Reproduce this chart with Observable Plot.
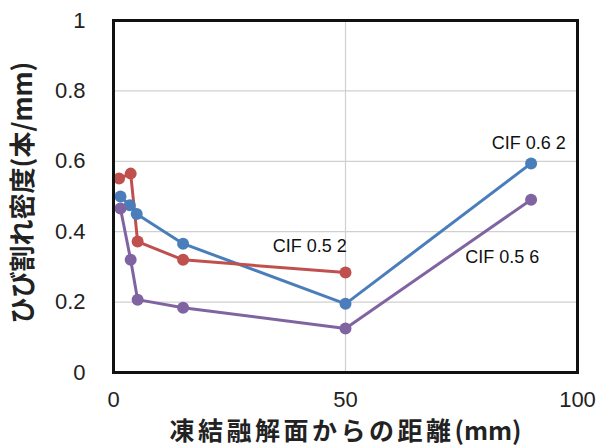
<!DOCTYPE html>
<html>
<head>
<meta charset="utf-8">
<script src="https://cdn.jsdelivr.net/npm/d3@7"></script>
<script src="https://cdn.jsdelivr.net/npm/@observablehq/plot@0.6"></script>
<style>
html,body{margin:0;padding:0;background:#fff;}
</style>
</head>
<body>
<div id="chart"></div>
<script>
const seriesNames = ["CIF 0.6 2", "CIF 0.5 2", "CIF 0.5 6"];
const seriesColors = ["#4A7EBB", "#C0504D", "#8064A2"];
const blueX = [1.5, 3.5, 5, 15, 50, 90];
const blueY = [0.50, 0.475, 0.45, 0.366, 0.195, 0.594];
const redX = [1.2, 3.7, 5.2, 15, 50];
const redY = [0.551, 0.565, 0.372, 0.32, 0.284];
const purpleX = [1.5, 3.7, 5.2, 15, 50, 90];
const purpleY = [0.466, 0.32, 0.207, 0.184, 0.125, 0.491];
const xTicks = [0, 50, 100];
const yTicks = [0, 0.2, 0.4, 0.6, 0.8, 1];
const labelText = ["CIF 0.5 2", "CIF 0.6 2", "CIF 0.5 6"];
const labelX = [42.3, 89.5, 83.8];
const labelY = [0.36, 0.65, 0.327];
const xTitleJa = "凍結融解面からの距離";
const xTitleUnit = "(mm)";
const xTitle = xTitleJa + xTitleUnit;
const yTitle = "ひび割れ密度(本/mm)";

const data = [];
[[blueX, blueY], [redX, redY], [purpleX, purpleY]].forEach(([xs, ys], i) => {
  xs.forEach((x, j) => data.push({series: seriesNames[i], x, y: ys[j]}));
});
const labels = labelText.map((t, i) => ({t, x: labelX[i], y: labelY[i]}));

const font = "'Liberation Sans', Arial, sans-serif";
const jp = "'Noto Sans CJK JP', sans-serif";
const chart = Plot.plot({
  width: 599,
  height: 447,
  marginLeft: 113,
  marginRight: 22,
  marginTop: 20,
  marginBottom: 75,
  style: {fontFamily: font, background: "#fff"},
  x: {domain: [0, 100], ticks: xTicks, label: null},
  y: {domain: [0, 1], ticks: yTicks, label: null},
  color: {domain: seriesNames, range: seriesColors},
  marks: [
    Plot.gridY(yTicks.filter(d => d > 0 && d < 1), {stroke: "#d0d0d0", strokeOpacity: 1, strokeWidth: 1.2}),
    Plot.gridX([50], {stroke: "#d0d0d0", strokeOpacity: 1, strokeWidth: 1.2}),
    Plot.axisY(yTicks, {tickSize: 0, tickPadding: 28, fontSize: 22, fill: "#222", tickFormat: d => String(d), label: null}),
    Plot.axisX(xTicks, {tickSize: 0, tickPadding: 19, fontSize: 22, fill: "#222", tickFormat: d => String(d), label: null}),
    Plot.line(data, {x: "x", y: "y", z: "series", stroke: "series", strokeWidth: 3}),
    Plot.dot(data, {x: "x", y: "y", fill: "series", r: 6, stroke: "none"}),
    Plot.text(labels, {x: "x", y: "y", text: "t", fontSize: 18, fill: "#111"}),
    Plot.frame({stroke: "#111", strokeWidth: 3}),
    Plot.text([xTitle], {frameAnchor: "bottom", dy: 59, lineAnchor: "middle", fontSize: 25, fontWeight: "bold", fill: "#222", fontFamily: jp}),
    Plot.text([yTitle], {frameAnchor: "left", dx: -90, dy: -4, textAnchor: "middle", lineAnchor: "middle", rotate: -90, fontSize: 26, fontWeight: "bold", fill: "#222", fontFamily: jp})
  ]
});
d3.select(chart).selectAll("text").filter(function() { return this.textContent === xTitle; })
  .each(function() {
    const t = d3.select(this);
    t.text(null);
    t.append("tspan").style("letter-spacing", "3.5px").text(xTitleJa);
    t.append("tspan").text(xTitleUnit);
  });
document.getElementById("chart").appendChild(chart);
</script>
</body>
</html>
